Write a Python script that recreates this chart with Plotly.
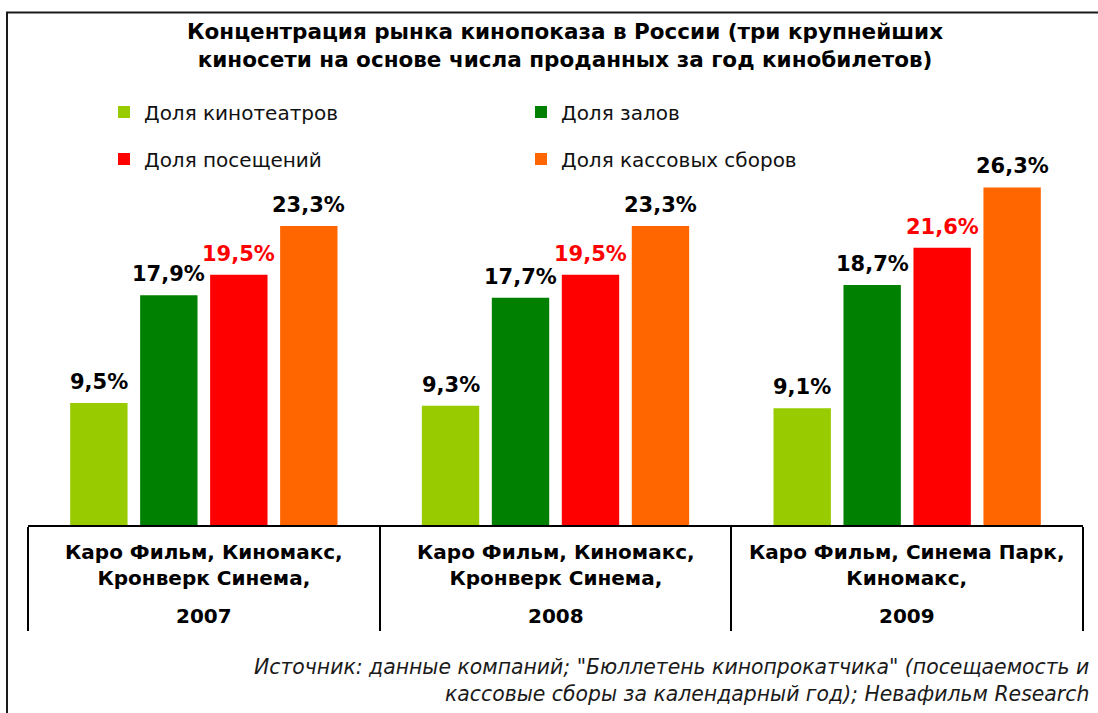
import plotly.graph_objects as go

# ---- data ----
years = ["2007", "2008", "2009"]
companies = [
    "Каро Фильм, Киномакс,<br>Кронверк Синема,",
    "Каро Фильм, Киномакс,<br>Кронверк Синема,",
    "Каро Фильм, Синема Парк,<br>Киномакс,",
]
series_names = ["Доля кинотеатров", "Доля залов", "Доля посещений", "Доля кассовых сборов"]
share_cinemas = [9.5, 9.3, 9.1]
share_screens = [17.9, 17.7, 18.7]
share_visits = [19.5, 19.5, 21.6]
share_boxoffice = [23.3, 23.3, 26.3]
series_values = [share_cinemas, share_screens, share_visits, share_boxoffice]
source_text = ("Источник: данные компаний; \"Бюллетень кинопрокатчика\" (посещаемость и<br>"
               "кассовые сборы за календарный год); Невафильм Research")
title_text = ("Концентрация рынка кинопоказа в России (три крупнейших<br>"
              "киносети на основе числа проданных за год кинобилетов)")

# ---- style ----
colors = ["#99CC00", "#008000", "#FF0000", "#FF6600"]
label_colors = ["#000000", "#000000", "#FF0000", "#000000"]
FONT = "DejaVu Sans"
W, H = 1098, 713
ML, MR, MT, MB = 28, 15, 140, 188
BARGAP = 0.204
GROUPGAP = 0.18
plot_w = W - ML - MR
plot_h = H - MT - MB

def px_x(p):
    return (p - ML) / plot_w

def px_y(p):
    return (H - MB - p) / plot_h

fig = go.Figure()
legend_ids = ["legend", "legend", "legend2", "legend2"]
for name, vals, c, lg in zip(series_names, series_values, colors, legend_ids):
    fig.add_trace(go.Bar(x=years, y=vals, name=name, marker=dict(color=c, line=dict(width=0)),
                         legend=lg, hoverinfo="x+y+name"))

# value labels above bars
cat_w = plot_w / len(years)
slot = cat_w * (1 - BARGAP) / len(series_names)
annotations = []
for i, vals in enumerate(series_values):
    for j, v in enumerate(vals):
        annotations.append(dict(
            x=j, y=v, xref="x", yref="y",
            text=f"{v:.1f}".replace(".", ",") + "%",
            showarrow=False, yanchor="bottom", xanchor="center",
            xshift=(i - 1.5) * slot, yshift=7,
            font=dict(family=FONT, size=21, color=label_colors[i], weight="bold"),
        ))

# category labels
for j, y in enumerate(years):
    annotations.append(dict(
        x=j, y=px_y(538), xref="x", yref="paper", text=companies[j],
        showarrow=False, yanchor="top", xanchor="center", align="center",
        font=dict(family=FONT, size=20, color="#000000", weight="bold"),
    ))
    annotations.append(dict(
        x=j, y=px_y(616), xref="x", yref="paper", text=y,
        showarrow=False, yanchor="middle", xanchor="center",
        font=dict(family=FONT, size=20, color="#000000", weight="bold"),
    ))

# source
annotations.append(dict(
    x=px_x(1091), y=px_y(680), xref="paper", yref="paper", text=source_text,
    showarrow=False, xanchor="right", yanchor="middle", align="right",
    font=dict(family=FONT, size=20.4, color="#1a1a1a", style="italic"),
))

fig.update_layout(
    width=W, height=H,
    margin=dict(l=ML, r=MR, t=MT, b=MB, pad=0),
    paper_bgcolor="white", plot_bgcolor="white",
    barmode="group", bargap=BARGAP, bargroupgap=GROUPGAP,
    title=dict(text=title_text, x=565 / W, xanchor="center", y=1 - 39 / H, yanchor="top",
               font=dict(family=FONT, size=21.5, color="#000000", weight="bold")),
    font=dict(family=FONT, color="#000000"),
    legend=dict(orientation="h", x=px_x(104), y=px_y(112), xanchor="left", yanchor="middle",
                entrywidth=372, entrywidthmode="pixels", bgcolor="rgba(0,0,0,0)",
                font=dict(family=FONT, size=20, color="#111111"), traceorder="normal"),
    legend2=dict(orientation="h", x=px_x(104), y=px_y(159), xanchor="left", yanchor="middle",
                 entrywidth=372, entrywidthmode="pixels", bgcolor="rgba(0,0,0,0)",
                 font=dict(family=FONT, size=20, color="#111111"), traceorder="normal"),
    xaxis=dict(type="category", showticklabels=False, showline=True, linecolor="#000000",
               linewidth=2, ticks="outside", tickson="boundaries", ticklen=104,
               tickwidth=2, tickcolor="#000000", showgrid=False, zeroline=False,
               range=[-0.5, 2.5], fixedrange=True),
    yaxis=dict(visible=False, range=[0, 30], showgrid=False, zeroline=False, fixedrange=True),
    annotations=annotations,
    shapes=[dict(type="rect", xref="paper", yref="paper",
                 x0=px_x(7), x1=px_x(1120), y0=px_y(740), y1=px_y(12.5),
                 line=dict(color="#1a1a1a", width=2), fillcolor="rgba(0,0,0,0)", layer="above")],
)

fig.write_html("out.html", config={"displayModeBar": False},
               post_script="document.body.style.margin='0';")
